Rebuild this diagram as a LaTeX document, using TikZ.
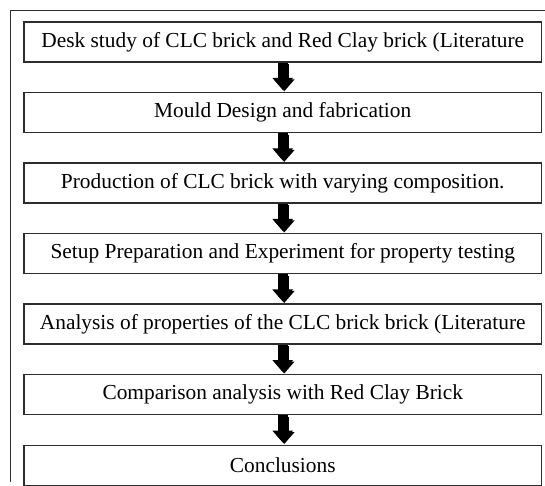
\documentclass[tikz,border=0pt]{standalone}
\usepackage{fontspec}
\setmainfont{Liberation Serif}
\usetikzlibrary{positioning, arrows.meta}
\definecolor{edge}{RGB}{45, 45, 45}
\definecolor{shade}{RGB}{165, 165, 165}

\begin{document}
\begin{tikzpicture}[x=1pt, y=-1pt,
  stage/.style={draw=edge, line width=1.3pt, minimum width=518pt,
    minimum height=40pt, inner sep=0pt,
    font=\fontsize{21.4}{24}\selectfont},
  flow/.style={line width=10pt, -{Triangle[width=20pt, length=12pt]},
    shorten >=2pt},
  node distance=29.3pt]

  \path (0, 0) rectangle (545, 482);

  \draw[edge, line width=1pt] (545, 10.7) -- (11, 10.7) -- (11, 482);

  \node[stage] (desk) at (283, 42)
    {Desk study of CLC brick and Red Clay brick (Literature};
  \node[stage, below=of desk] (mould) {Mould Design and fabrication};
  \node[stage, below=of mould] (prod)
    {Production of CLC brick with varying composition.};
  \node[stage, below=of prod] (setup)
    {Setup Preparation and Experiment for property testing};
  \node[stage, below=of setup] (anal)
    {Analysis of properties of the CLC brick brick (Literature};
  \node[stage, below=of anal] (comp) {Comparison analysis with Red Clay Brick};
  \node[stage, below=of comp] (concl) {Conclusions};

  \foreach \a/\b in {desk/mould, mould/prod, prod/setup, setup/anal,
                     anal/comp, comp/concl} {
    \draw[flow, shade] ([xshift=1.5pt, yshift=-1.5pt]\a.south)
      -- ([xshift=1.5pt, yshift=-1.5pt]\b.north);
    \draw[flow] (\a.south) -- (\b.north);
  }

\end{tikzpicture}
\end{document}
